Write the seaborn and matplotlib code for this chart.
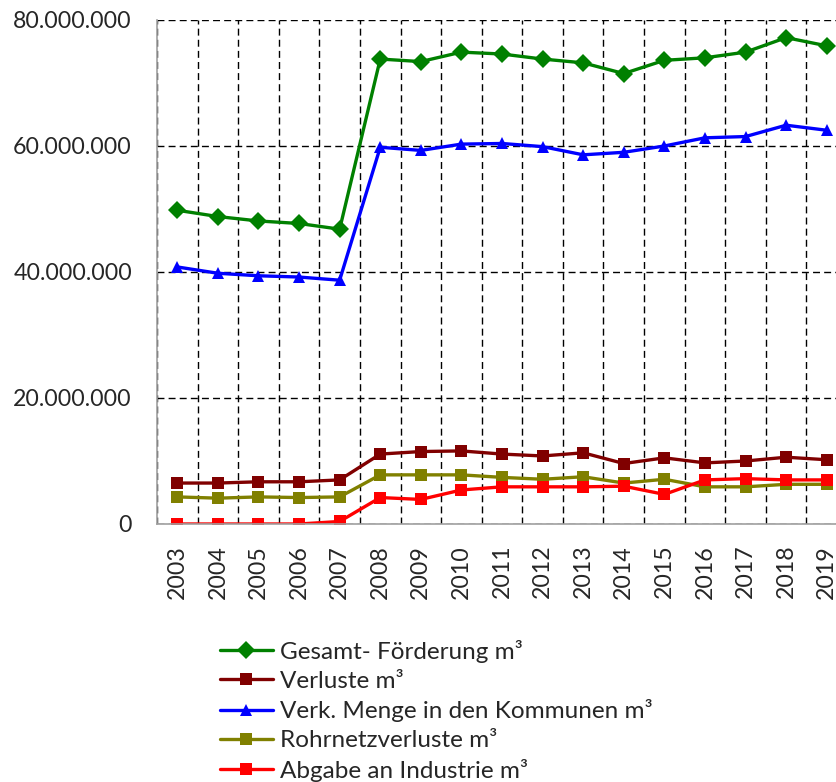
import numpy as np
import pandas as pd
import matplotlib
matplotlib.use("Agg")
import matplotlib.pyplot as plt
import seaborn as sns
from matplotlib.ticker import FuncFormatter, MultipleLocator

# Werte
years = [str(y) for y in range(2003, 2020)]
gesamt = [49.8, 48.8, 48.1, 47.7, 46.8, 73.8, 73.4, 74.9, 74.6, 73.8, 73.2, 71.5, 73.6, 74.0, 74.9, 77.2, 75.9]
verluste = [6.5, 6.5, 6.7, 6.7, 7.0, 11.1, 11.5, 11.6, 11.1, 10.8, 11.3, 9.6, 10.5, 9.7, 10.0, 10.6, 10.2]
kommunen = [40.8, 39.8, 39.4, 39.2, 38.7, 59.8, 59.3, 60.3, 60.4, 59.9, 58.6, 59.0, 60.0, 61.3, 61.5, 63.3, 62.5]
rohrnetz = [4.3, 4.1, 4.3, 4.2, 4.3, 7.8, 7.8, 7.8, 7.4, 7.1, 7.5, 6.5, 7.1, 5.9, 5.9, 6.3, 6.3]
industrie = [0.0, 0.0, 0.0, 0.0, 0.4, 4.2, 3.9, 5.4, 5.9, 5.9, 5.9, 6.0, 4.7, 7.0, 7.2, 7.0, 7.0]

series_names = ["Gesamt- Förderung m³", "Verluste m³", "Verk. Menge in den Kommunen m³",
                "Rohrnetzverluste m³", "Abgabe an Industrie m³"]
series_values = [gesamt, verluste, kommunen, rohrnetz, industrie]
colors = ["#008000", "#800000", "#0000FF", "#808000", "#FF0000"]
markers = ["D", "s", "^", "s", "s"]

rows = []
for name, vals in zip(series_names, series_values):
    for i, v in enumerate(vals):
        rows.append({"pos": i, "wert": v * 1e6, "serie": name})
df = pd.DataFrame(rows)

sns.set_style("white")
plt.rcParams['font.family'] = ['Lato', 'DejaVu Sans']

fig = plt.figure(figsize=(8.37, 7.82), dpi=100)
ax = fig.add_axes([157 / 837, 1 - 524 / 782, 690 / 837, 504 / 782])

sns.lineplot(data=df, x="pos", y="wert", hue="serie", style="serie",
             hue_order=series_names, style_order=series_names,
             palette=dict(zip(series_names, colors)),
             markers=dict(zip(series_names, markers)),
             dashes=False, linewidth=2.4, markersize=9, markeredgewidth=0,
             ax=ax, legend=True)

ax.set_xlim(-0.5, 16.5)
ax.set_ylim(0, 80e6)
ax.set_xticks(range(len(years)))
ax.set_xticklabels(years, rotation=90, fontsize=16.7)
ax.xaxis.set_minor_locator(MultipleLocator(1, offset=0.5))
ax.yaxis.set_major_locator(MultipleLocator(20e6))
ax.yaxis.set_major_formatter(FuncFormatter(lambda v, p: f"{int(v):,}".replace(",", ".")))
ax.tick_params(axis="y", labelsize=16.7, length=6, color="#A0A0A0", direction="out", pad=12)
ax.tick_params(axis="x", which="major", length=0, pad=15)
ax.tick_params(axis="x", which="minor", length=7, color="#A0A0A0", direction="out")

ax.grid(False)
ax.grid(axis="y", which="major", color="black", linestyle=(0, (5, 3)), linewidth=1)
ax.grid(axis="x", which="minor", color="black", linestyle=(0, (5, 3)), linewidth=1)
ax.set_axisbelow(True)

for s in ["top", "right"]:
    ax.spines[s].set_visible(False)
for s in ["left", "bottom"]:
    ax.spines[s].set_color("#A0A0A0")
    ax.spines[s].set_linewidth(1.2)

ax.set_xlabel("")
ax.set_ylabel("")

handles, labels = ax.get_legend_handles_labels()
ax.legend(handles, labels, loc="upper left", bbox_to_anchor=(210 / 837, 1 - 630 / 782),
          bbox_transform=fig.transFigure, frameon=False, fontsize=17.5,
          handlelength=2.2, handletextpad=0.3, labelspacing=0.32, borderaxespad=0)

fig.savefig("out.png", dpi=100)
